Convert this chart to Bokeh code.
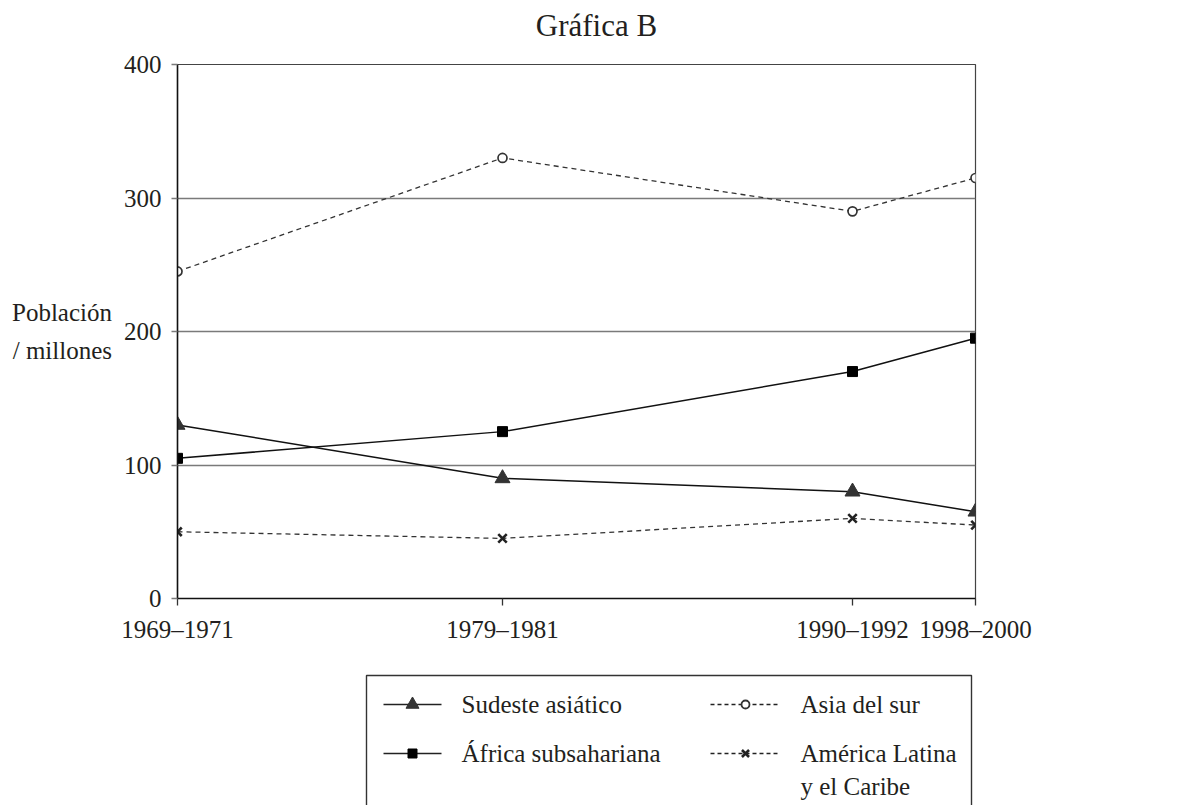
from bokeh.plotting import figure
from bokeh.models import Range1d, FixedTicker
from bokeh.layouts import column
from bokeh.core.properties import value
from bokeh.embed import file_html
from bokeh.resources import INLINE

# ---- data ----
periods = ["1969–1971", "1979–1981", "1990–1992", "1998–2000"]
period_pos = [0, 325, 675, 798]          # position of each period along the x axis
sudeste_asiatico = [130, 90, 80, 65]
africa_subsahariana = [105, 125, 170, 195]
asia_del_sur = [245, 330, 290, 315]
america_latina = [50, 45, 60, 55]
y_ticks = [0, 100, 200, 300, 400]
series_names = ["Sudeste asiático", "África subsahariana", "Asia del sur",
                "América Latina\ny el Caribe"]
title_text = "Gráfica B"
y_label = "Población\n/ millones"

FONT = "Liberation Serif"
TXT = "#231f20"
FS = "25px"

W = 1173
T = 46            # title strip
H1 = 614          # chart strip (picture y 46..660)
H2 = 145          # legend strip (picture y 660..805)
FL, FR, FT, FB = 177, 975, 64, 598      # frame edges in picture pixels


def strip(height, y0):
    f = figure(width=W, height=height, output_backend="svg", toolbar_location=None,
               x_range=Range1d(FL, FR), y_range=Range1d(y0 + height, y0),
               x_axis_location=None, y_axis_location=None,
               min_border_left=FL, min_border_right=W - FR,
               min_border_top=0, min_border_bottom=0)
    f.outline_line_color = None
    f.xgrid.visible = False
    f.ygrid.visible = False
    f.background_fill_color = "white"
    f.border_fill_color = "white"
    return f


# title strip
top = strip(T, 0)
top.text([596], [25], text=[title_text], text_font=value(FONT), text_font_size="31px",
         text_color=TXT, text_align="center", text_baseline="middle")

# chart
p = figure(width=W, height=H1, output_backend="svg", toolbar_location=None,
           x_range=Range1d(0, 798), y_range=Range1d(0, 400),
           min_border_left=FL, min_border_right=W - FR,
           min_border_top=FT - T, min_border_bottom=T + H1 - FB)
p.background_fill_color = "white"
p.border_fill_color = "white"
p.outline_line_color = "#444444"
p.outline_line_width = 1.2

p.xgrid.visible = False
p.ygrid.ticker = FixedTicker(ticks=y_ticks)
p.ygrid.grid_line_color = "#7a7a7a"
p.ygrid.grid_line_width = 1.5

p.xaxis.ticker = FixedTicker(ticks=period_pos)
p.xaxis.major_label_overrides = {pp: lab for pp, lab in zip(period_pos, periods)}
p.yaxis.ticker = FixedTicker(ticks=y_ticks)
for ax in (p.xaxis[0], p.yaxis[0]):
    ax.axis_line_color = "#111111"
    ax.axis_line_width = 1.5
    ax.major_tick_in = 0
    ax.major_tick_out = 7
    ax.minor_tick_line_color = None
    ax.major_label_text_font = FONT
    ax.major_label_text_font_size = FS
    ax.major_label_text_color = TXT
p.yaxis.major_tick_line_color = "#7a7a7a"
p.yaxis.major_tick_line_width = 1.5
p.yaxis.major_tick_out = 6
p.yaxis.major_label_standoff = 10
p.yaxis.axis_label = y_label
p.yaxis.axis_label_orientation = "horizontal"
p.yaxis.axis_label_standoff = 9
p.yaxis.axis_label_text_font = FONT
p.yaxis.axis_label_text_font_size = FS
p.yaxis.axis_label_text_font_style = "normal"
p.yaxis.axis_label_text_color = TXT
p.yaxis.axis_label_text_line_height = 1.4
p.xaxis.major_tick_line_color = "#333333"
p.xaxis.major_tick_line_width = 1.3
p.xaxis.major_label_standoff = 10

# series
p.line(period_pos, sudeste_asiatico, line_color="#111111", line_width=1.5)
p.scatter(period_pos, sudeste_asiatico, marker="triangle", size=15,
          fill_color="#333333", line_color="#333333")
p.line(period_pos, africa_subsahariana, line_color="#111111", line_width=1.5)
p.scatter(period_pos, africa_subsahariana, marker="square", size=10,
          fill_color="#000000", line_color="#000000")
p.line(period_pos, asia_del_sur, line_color="#333333", line_width=1.3, line_dash="5 4")
p.scatter(period_pos, asia_del_sur, marker="circle", size=9,
          fill_color="white", line_color="#333333", line_width=1.7)
p.line(period_pos, america_latina, line_color="#333333", line_width=1.3, line_dash="5 4")
p.scatter(period_pos, america_latina, marker="x", size=12,
          line_color="#222222", line_width=2.6)

# legend strip
leg = strip(H2, T + H1)
leg.quad(left=366, right=971, top=675, bottom=T + H1 + H2 + 20,
         fill_color=None, line_color="#333333", line_width=1.4)

styles = [
    dict(dash="solid", marker="triangle", size=13, fill="#333333", lc="#333333", lw=1),
    dict(dash="solid", marker="square", size=9, fill="#000000", lc="#000000", lw=1),
    dict(dash="4 3", marker="circle", size=8, fill="white", lc="#333333", lw=1.8),
    dict(dash="4 3", marker="x", size=10, fill=None, lc="#222222", lw=2.6),
]
cols = [(383, 441, 412, 461), (710, 780, 745, 800)]
rows = [704, 753]
for k, (name, st) in enumerate(zip(series_names, styles)):
    c = cols[k // 2]
    r = rows[k % 2]
    leg.line([c[0], c[1]], [r, r], line_color="#222222", line_width=1.4,
             line_dash=st["dash"])
    leg.scatter([c[2]], [r], marker=st["marker"], size=st["size"],
                fill_color=st["fill"], line_color=st["lc"], line_width=st["lw"])
    for j, txt in enumerate(name.split("\n")):
        leg.text([c[3]], [r + 33 * j], text=[txt],
                 text_font=value(FONT), text_font_size=FS, text_color=TXT,
                 text_baseline="middle", text_align="left")

layout = column(top, p, leg, spacing=0)
open("out.html", "w").write(file_html(layout, INLINE))
